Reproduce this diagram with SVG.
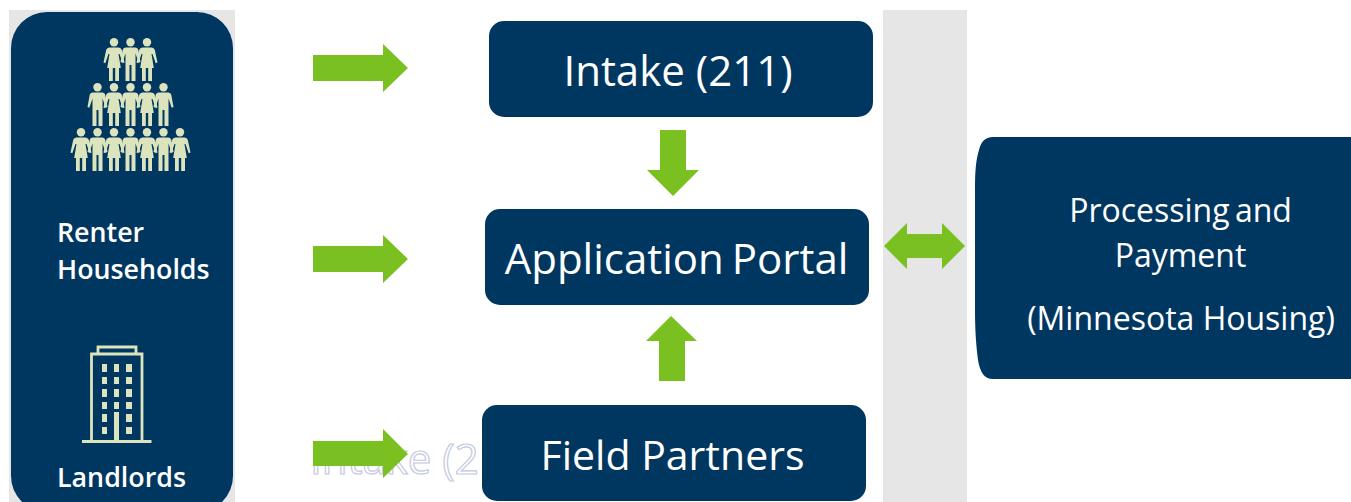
<svg xmlns="http://www.w3.org/2000/svg" xmlns:xlink="http://www.w3.org/1999/xlink" width="1351" height="502" viewBox="0 0 1351 502">
<style>
.band{fill:#e6e6e6}
.box{fill:#003761}
.arrow{fill:#7ac020}
.t{font-family:"Open Sans","Noto Sans",sans-serif;fill:#fff;text-anchor:middle}
.big{font-size:42px}
.mid{font-size:32px}
.lab{font-family:"Open Sans","Noto Sans",sans-serif;fill:#fff;font-size:26.800px;font-weight:600}
.fig{fill:#dbe4bd}
.ln{fill:none;stroke:#dbe4bd;stroke-width:2.800}
.win{fill:#dbe4bd}
.ghost{font-family:"Open Sans","Noto Sans",sans-serif;font-size:42px;fill:#fff;stroke:#c4c8e0;stroke-width:1.200}
</style>
<defs>
<g id="man" class="fig"><circle cx="0" cy="4.200" r="4.200"/><path d="M-4.500 9.500H4.500C6.500 9.500 7.300 10.500 7.800 12L10 24 8.200 24.800 5 15.500V43H1V27H-1V43H-5V15.500L-8.200 24.800-10 24-7.800 12C-7.300 10.500-6.500 9.500-4.500 9.500Z"/></g>
<g id="woman" class="fig"><circle cx="0" cy="4.200" r="4.200"/><path d="M-4.200 9.500H4.200C6 9.500 7.300 10.500 7.800 12L10.500 24.500 8.700 25.300 5.500 16 4.500 16 6.800 30H5V43H1.200V30H-1.200V43H-5V30H-6.800L-4.500 16-5.500 16-8.700 25.300-10.500 24.500-7.800 12C-7.300 10.500-6 9.500-4.200 9.500Z"/></g>
</defs>
<g id="bands"><rect class="band" x="9" y="10" width="226" height="492"/><rect class="band" x="883" y="10" width="84" height="492"/></g>
<text class="ghost" x="310" y="474">Intake (211)</text>
<g id="households">
<rect class="box" x="11" y="12" width="222" height="500" rx="36"/>
<use xlink:href="#woman" x="114" y="38"/><use xlink:href="#man" x="130.500" y="38"/><use xlink:href="#woman" x="147" y="38"/>
<use xlink:href="#man" x="97.500" y="83"/><use xlink:href="#woman" x="114" y="83"/><use xlink:href="#man" x="130.500" y="83"/><use xlink:href="#woman" x="147" y="83"/><use xlink:href="#man" x="163.500" y="83"/>
<use xlink:href="#woman" x="81" y="128"/><use xlink:href="#man" x="97.500" y="128"/><use xlink:href="#woman" x="114" y="128"/><use xlink:href="#man" x="130.500" y="128"/><use xlink:href="#woman" x="147" y="128"/><use xlink:href="#man" x="163.500" y="128"/><use xlink:href="#woman" x="180" y="128"/>
<text class="lab" x="57" y="242">Renter</text><text class="lab" x="57" y="279">Households</text>
<path class="ln" d="M98 353.500V347H136V353.500M91.500 441V354H142V441M82 441.500H151.500"/>
<path class="win" d="M102 364h5v8h-5zM114 364h5v8h-5zM126 364h6v8h-6zM102 377h5v7h-5zM114 377h5v7h-5zM126 377h6v7h-6zM102 389h5v8h-5zM114 389h5v8h-5zM126 389h6v8h-6zM102 402h5v7h-5zM114 402h5v7h-5zM126 402h6v7h-6zM102 414h5v8h-5zM126 414h6v8h-6zM102 427h5v7h-5zM126 427h6v7h-6zM114 412h5v29h-5z"/>
<text class="lab" x="57" y="487">Landlords</text>
</g>
<g id="intake"><rect class="box" x="489" y="21" width="384" height="96" rx="15"/><text class="t big" x="678" y="86">Intake (211)</text></g>
<g id="portal"><rect class="box" x="485" y="209" width="384" height="96" rx="15"/><text class="t big" x="676.500" y="274" word-spacing="-3">Application Portal</text></g>
<g id="partners"><rect class="box" x="482" y="405" width="384" height="96" rx="15"/><text class="t big" x="672.500" y="470" style="font-size:41px">Field Partners</text></g>
<g id="processing"><path class="box" d="M993 137H1351V379H993C984 379 980 372 978 360 976 345 975 330 975 310V190C975 170 976 160 979 150 981 142 985 137 993 137Z"/>
<text class="t mid" x="1180.500" y="222" word-spacing="-3">Processing and</text><text class="t mid" x="1180.500" y="267">Payment</text><text class="t mid" x="1181" y="330">(Minnesota Housing)</text></g>
<g id="connectors">
<path class="arrow" d="M313 55H383V44L408 68 383 92V81H313Z"/>
<path class="arrow" d="M313 246H383V235L408 259 383 283V272H313Z"/>
<path class="arrow" d="M313 441H383V429L408 454 383 478V466H313Z"/>
<path class="arrow" d="M660 130H686V170H699L673 196 647 170H660Z"/>
<path class="arrow" d="M659 381H685V341H697L671 316 646 341H659Z"/>
<path class="arrow" d="M884 246L907 223V234H942V223L965 246 942 269V258H907V269Z"/>
</g>
</svg>
